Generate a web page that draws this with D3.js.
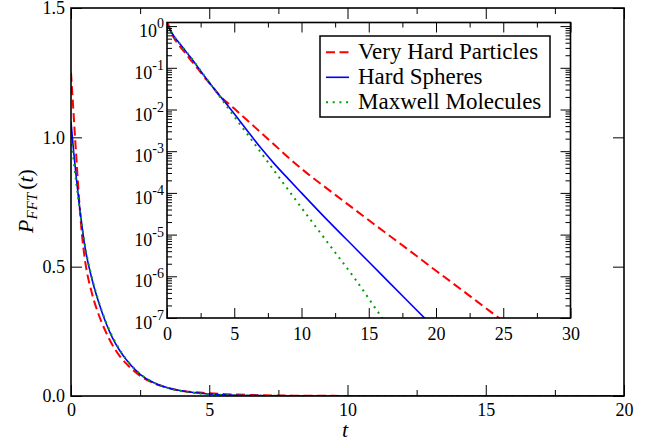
<!DOCTYPE html>
<html><head><meta charset="utf-8">
<script src="https://cdn.jsdelivr.net/npm/d3@7"></script>
<style>body{margin:0;background:#fff}</style>
</head><body>
<svg id="c" width="657" height="441"></svg>
<script>
// ---- data ----
const tVals = [0,0.1,0.2,0.3,0.4,0.5,0.75,1,1.25,1.5,1.75,2,2.5,3,3.5,4,4.5,5,6,7,8,9,10,12,14,16,18,20,22,24,26];
const veryHard = [1.25,1.08,0.91,0.75,0.62,0.53,0.40,0.315,0.25,0.197,0.156,0.125,0.078,0.049,0.0316,0.020,0.0145,0.0105,5.4e-3,2.75e-3,1.41e-3,7.2e-4,3.8e-4,1.2e-4,3.9e-5,1.27e-5,4.2e-6,1.36e-6,4.5e-7,1.46e-7,4.8e-8];
const hardSpheres = [1.06,0.94,0.835,0.74,0.655,0.58,0.455,0.362,0.286,0.225,0.178,0.140,0.084,0.051,0.0316,0.020,0.0126,0.0079,3.0e-3,1.17e-3,4.9e-4,2.2e-4,1.0e-4,2.1e-5,4.7e-6,1.05e-6,2.35e-7,5.3e-8];
const maxwell = [1.0,0.905,0.815,0.735,0.655,0.585,0.46,0.366,0.29,0.229,0.181,0.142,0.085,0.0515,0.031,0.0187,0.0113,0.0068,2.5e-3,9.1e-4,3.3e-4,1.2e-4,4.4e-5,6.1e-6,8.5e-7,1.0e-7,1.3e-8];
const seriesNames = ["Very Hard Particles","Hard Spheres","Maxwell Molecules"];
const mainXTicks = [0,5,10,15,20];
const mainXMinor = [2.5,7.5,12.5,17.5];
const mainYTicks = [0,0.5,1.0,1.5];
const insetXTicks = [0,5,10,15,20,25,30];
const insetXMinor = [2.5,7.5,12.5,17.5,22.5,27.5];
const insetYExponents = [0,-1,-2,-3,-4,-5,-6,-7];

// ---- layout / styles ----
const FONT = "Liberation Serif";
const styles = [
  {color:"#ff0000", dash:"9,4.5", w:2},
  {color:"#0000ff", dash:null, w:1.6},
  {color:"#00a000", dash:"2,4.7", w:2}
];
const seriesVals = [veryHard, hardSpheres, maxwell];
const series = seriesVals.map(v => v.map((val,i) => ({t:tVals[i], v:val})));

const svg = d3.select("#c");
const M = {l:71, r:624, t:8, b:396};
const I = {l:167, r:570.5, t:22.5, b:318};

const x = d3.scaleLinear().domain([0,20]).range([M.l,M.r]);
const y = d3.scaleLinear().domain([0,1.5]).range([M.b,M.t]);
const xi = d3.scaleLinear().domain([0,30]).range([I.l,I.r]);
const yi = d3.scaleLog().domain([1e-7,1.22]).range([I.b,I.t]);

function styleAxis(g, fs){
  g.select(".domain").remove();
  g.attr("font-family",FONT).attr("font-size",fs||18);
  g.selectAll("line").attr("stroke","#000").attr("stroke-width",1);
  g.selectAll("text").attr("fill","#000").attr("font-family",FONT);
}
function addText(parent){
  return parent.append("text").attr("font-family",FONT);
}
// clipping with nested svg viewports
function viewport(box){
  return svg.append("svg").attr("x",box.l).attr("y",box.t)
    .attr("width",box.r-box.l).attr("height",box.b-box.t)
    .attr("overflow","hidden")
    .append("g").attr("transform",`translate(${-box.l},${-box.t})`);
}

// ---- main plot ----
const mainLine = d3.line().x(d=>x(d.t)).y(d=>y(d.v)).curve(d3.curveMonotoneX);
const gMain = viewport(M);
series.forEach((s,i)=>{
  gMain.append("path").datum(s).attr("d",mainLine)
    .attr("fill","none").attr("stroke",styles[i].color)
    .attr("stroke-width",styles[i].w)
    .attr("stroke-dasharray",styles[i].dash);
});

svg.append("g").attr("transform",`translate(0,${M.b})`)
  .call(d3.axisBottom(x).tickValues(mainXTicks).tickSize(-11).tickSizeOuter(0).tickPadding(7).tickFormat(d3.format("d")))
  .call(g=>styleAxis(g));
svg.append("g").attr("transform",`translate(0,${M.b})`)
  .call(d3.axisBottom(x).tickValues(mainXMinor).tickSize(-6).tickSizeOuter(0).tickFormat(""))
  .call(g=>styleAxis(g));
svg.append("g").attr("transform",`translate(0,${M.t})`)
  .call(d3.axisTop(x).tickValues(mainXTicks).tickSize(-11).tickSizeOuter(0).tickFormat(""))
  .call(g=>styleAxis(g));
svg.append("g").attr("transform",`translate(0,${M.t})`)
  .call(d3.axisTop(x).tickValues(mainXMinor).tickSize(-6).tickSizeOuter(0).tickFormat(""))
  .call(g=>styleAxis(g));
svg.append("g").attr("transform",`translate(${M.l},0)`)
  .call(d3.axisLeft(y).tickValues(mainYTicks).tickSize(-11).tickSizeOuter(0).tickPadding(6).tickFormat(d3.format(".1f")))
  .call(g=>styleAxis(g));
svg.append("g").attr("transform",`translate(${M.r},0)`)
  .call(d3.axisRight(y).tickValues(mainYTicks).tickSize(-11).tickSizeOuter(0).tickFormat(""))
  .call(g=>styleAxis(g));

svg.append("rect").attr("x",M.l).attr("y",M.t).attr("width",M.r-M.l).attr("height",M.b-M.t)
  .attr("fill","none").attr("stroke","#000").attr("stroke-width",1.6);

// axis titles
addText(svg).attr("x",345).attr("y",437).attr("text-anchor","middle")
  .attr("font-size",22).attr("font-style","italic").text("t");
const yl = addText(svg).attr("transform","translate(33,201) rotate(-90)")
  .attr("text-anchor","middle").attr("font-size",22);
yl.append("tspan").attr("font-style","italic").text("P");
yl.append("tspan").attr("font-style","italic").attr("font-size",15).attr("dy",4).text("FFT");
yl.append("tspan").attr("dy",-4).attr("dx",3).text("(");
yl.append("tspan").attr("font-style","italic").text("t");
yl.append("tspan").text(")");

// ---- inset ----
svg.append("rect").attr("x",I.l).attr("y",I.t).attr("width",I.r-I.l).attr("height",I.b-I.t)
  .attr("fill","#fff").attr("stroke","none");
const insetLine = d3.line().x(d=>xi(d.t)).y(d=>yi(d.v)).curve(d3.curveMonotoneX);
const gIn = viewport(I);
series.forEach((s,i)=>{
  gIn.append("path").datum(s).attr("d",insetLine)
    .attr("fill","none").attr("stroke",styles[i].color)
    .attr("stroke-width",styles[i].w)
    .attr("stroke-dasharray",styles[i].dash);
});

const decades = insetYExponents.map(e=>Math.pow(10,e));
const minorLog = [];
insetYExponents.forEach(e=>{ for(let k=2;k<=9;k++){ const v=k*Math.pow(10,e); if(v<=1.22) minorLog.push(v);} });

svg.append("g").attr("transform",`translate(0,${I.b})`)
  .call(d3.axisBottom(xi).tickValues(insetXTicks).tickSize(-10).tickSizeOuter(0).tickPadding(9).tickFormat(d3.format("d")))
  .call(g=>styleAxis(g));
svg.append("g").attr("transform",`translate(0,${I.b})`)
  .call(d3.axisBottom(xi).tickValues(insetXMinor).tickSize(-5).tickSizeOuter(0).tickFormat(""))
  .call(g=>styleAxis(g));
svg.append("g").attr("transform",`translate(0,${I.t})`)
  .call(d3.axisTop(xi).tickValues(insetXTicks).tickSize(-10).tickSizeOuter(0).tickFormat(""))
  .call(g=>styleAxis(g));
svg.append("g").attr("transform",`translate(0,${I.t})`)
  .call(d3.axisTop(xi).tickValues(insetXMinor).tickSize(-5).tickSizeOuter(0).tickFormat(""))
  .call(g=>styleAxis(g));
svg.append("g").attr("transform",`translate(${I.l},0)`)
  .call(d3.axisLeft(yi).tickValues(decades).tickSize(-10).tickSizeOuter(0).tickFormat(""))
  .call(g=>styleAxis(g));
svg.append("g").attr("transform",`translate(${I.l},0)`)
  .call(d3.axisLeft(yi).tickValues(minorLog).tickSize(-5).tickSizeOuter(0).tickFormat(""))
  .call(g=>styleAxis(g));
svg.append("g").attr("transform",`translate(${I.r},0)`)
  .call(d3.axisRight(yi).tickValues(decades).tickSize(-10).tickSizeOuter(0).tickFormat(""))
  .call(g=>styleAxis(g));
svg.append("g").attr("transform",`translate(${I.r},0)`)
  .call(d3.axisRight(yi).tickValues(minorLog).tickSize(-5).tickSizeOuter(0).tickFormat(""))
  .call(g=>styleAxis(g));

// inset y labels 10^n
const lab = svg.append("g").attr("font-size",18).attr("fill","#000");
insetYExponents.forEach(e=>{
  const tx = addText(lab).attr("x",I.l-3).attr("y",yi(Math.pow(10,e))+11).attr("text-anchor","end");
  tx.append("tspan").text("10");
  tx.append("tspan").attr("font-size",14).attr("dy",-9).text(String(e));
});

svg.append("rect").attr("x",I.l).attr("y",I.t).attr("width",I.r-I.l).attr("height",I.b-I.t)
  .attr("fill","none").attr("stroke","#000").attr("stroke-width",1.6);

// ---- legend ----
const lg = svg.append("g");
lg.append("rect").attr("x",320).attr("y",36).attr("width",230).attr("height",81)
  .attr("fill","#fff").attr("stroke","#000").attr("stroke-width",1.5);
seriesNames.forEach((n,i)=>{
  const yy = 52.3 + i*25;
  lg.append("line").attr("x1",326).attr("x2",349).attr("y1",yy).attr("y2",yy)
    .attr("stroke",styles[i].color).attr("stroke-width",styles[i].w)
    .attr("stroke-dasharray",styles[i].dash);
  addText(lg).attr("x",358).attr("y",yy+6.8)
    .attr("font-size",23).attr("fill","#000").text(n);
});
</script>
</body></html>
